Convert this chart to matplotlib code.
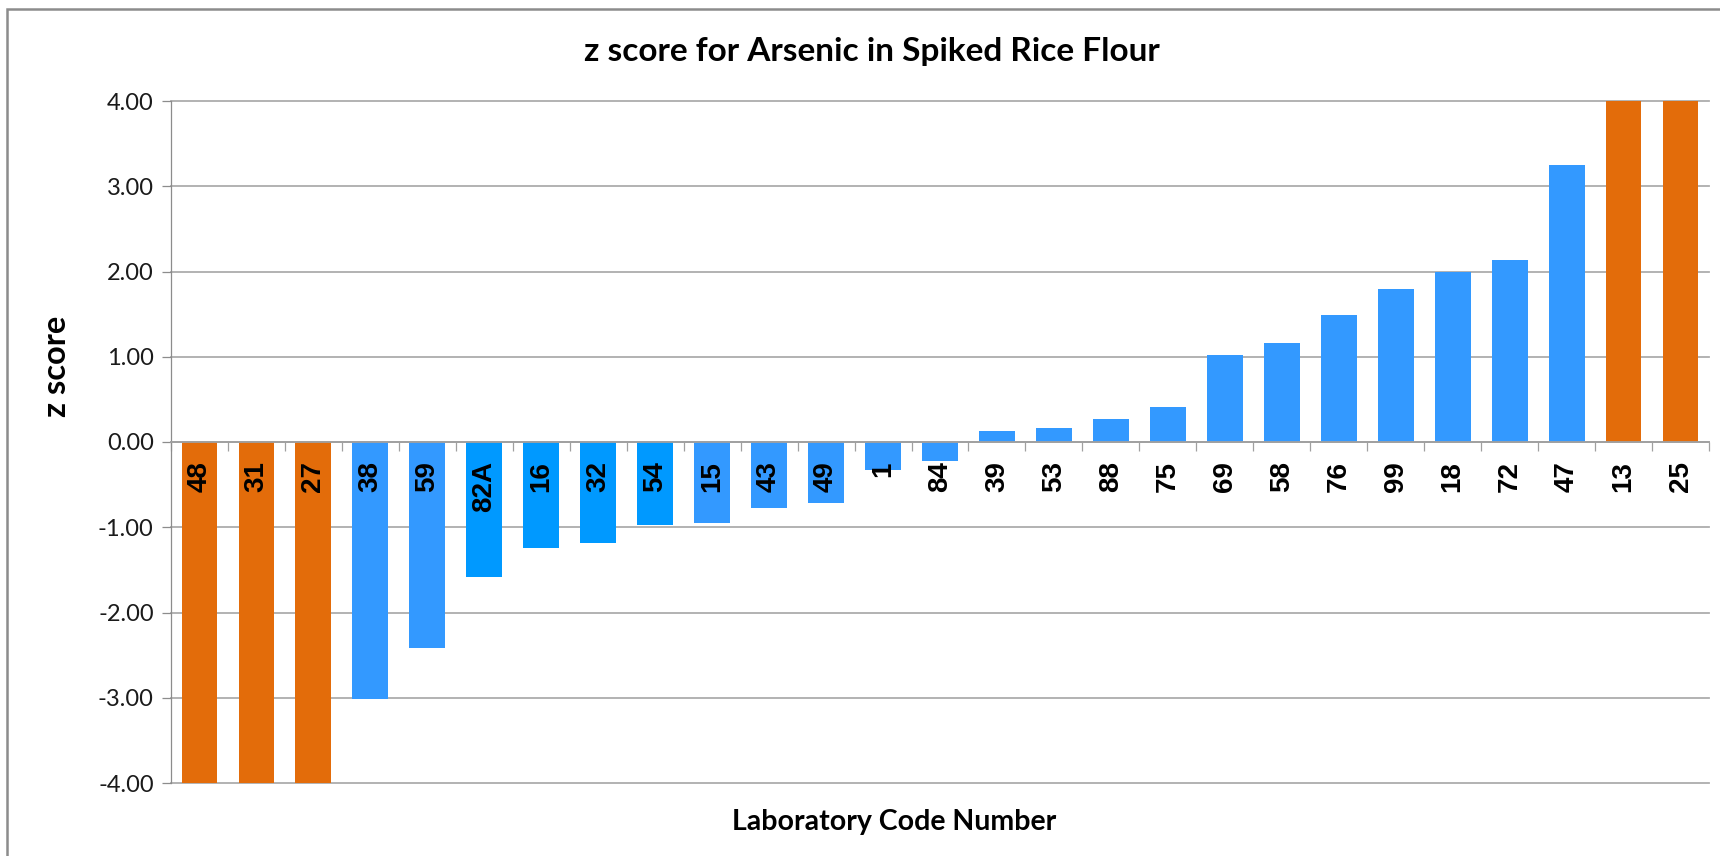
import matplotlib
matplotlib.use("Agg")
import matplotlib.pyplot as plt
from matplotlib.patches import Rectangle

# lab codes in plotted order and their z scores (outside +/-4 clipped to the axis)
labs = ["48", "31", "27", "38", "59", "82A", "16", "32", "54", "15", "43", "49", "1", "84",
        "39", "53", "88", "75", "69", "58", "76", "99", "18", "72", "47", "13", "25"]
zscores = [-4.0, -4.0, -4.0, -3.02, -2.42, -1.58, -1.24, -1.19, -0.97, -0.95, -0.77, -0.72, -0.33, -0.22,
           0.13, 0.16, 0.27, 0.41, 1.02, 1.16, 1.49, 1.80, 1.99, 2.13, 3.25, 4.0, 4.0]
# o = outlier (|z|>=4), b = brighter blue, n = normal blue
group = ["o", "o", "o", "n", "n", "b", "b", "b", "b", "n", "n", "n", "n", "n",
         "n", "n", "n", "n", "n", "n", "n", "n", "n", "n", "n", "o", "o"]
yticks = [-4, -3, -2, -1, 0, 1, 2, 3, 4]

cmap = {"o": "#E36C0A", "b": "#0099FF", "n": "#3399FF"}
colors = [cmap[g] for g in group]

W, H = 1720, 856
fig = plt.figure(figsize=(W / 100, H / 100), dpi=100)
ax = fig.add_axes([171 / W, 1 - 783 / H, (1709 - 171) / W, (783 - 101) / H])

# gridlines drawn by hand so that the category labels (axis) can sit above the bars
for v in yticks:
    ax.axhline(v, color="#ADADAD", linewidth=1.3, zorder=0.5, clip_on=False)

x = list(range(len(labs)))
ax.bar(x, zscores, width=0.63, color=colors, linewidth=0, zorder=1)

ax.set_xlim(-0.5, len(labs) - 0.5)
ax.set_ylim(-4, 4)
ax.set_yticks(yticks)
ax.set_yticklabels(["%.2f" % v for v in yticks], family="Lato", fontsize=17, color="#1a1a1a")
ax.tick_params(axis="y", direction="out", length=6.5, width=0.9, color="#8C8C8C", pad=6)

ax.spines["top"].set_visible(False)
ax.spines["right"].set_visible(False)
ax.spines["left"].set_color("#8C8C8C")
ax.spines["left"].set_linewidth(0.9)
ax.spines["bottom"].set_position(("data", 0))
ax.spines["bottom"].set_color("#A0A0A0")
ax.spines["bottom"].set_linewidth(1.3)

ax.set_xticks(x)
ax.set_xticklabels(labs, rotation=90, family="Liberation Sans", fontweight="bold", fontsize=20)
ax.set_xticks([i - 0.5 for i in range(len(labs) + 1)], minor=True)
ax.tick_params(axis="x", which="major", length=0, pad=14)
ax.tick_params(axis="x", which="minor", direction="out", length=6.5, width=0.9, color="#A0A0A0")

fig.text(872 / W, 1 - 52 / H, "z score for Arsenic in Spiked Rice Flour", ha="center", va="center",
         family="Lato", fontweight="bold", fontsize=24)
fig.text(894 / W, 1 - 822 / H, "Laboratory Code Number", ha="center", va="center",
         family="Lato", fontweight="bold", fontsize=20.5)
fig.text(56 / W, 1 - 366 / H, "z score", ha="center", va="center", rotation=90,
         family="Lato", fontweight="bold", fontsize=23.5)

# chart-area border (only top and left fall inside the picture)
fig.patches.append(Rectangle((7 / W, -0.05), 1.1, 1 - 9 / H + 0.05, transform=fig.transFigure,
                             fill=False, edgecolor="#8C8C8C", linewidth=1.8))

fig.savefig("out.png", dpi=100)
